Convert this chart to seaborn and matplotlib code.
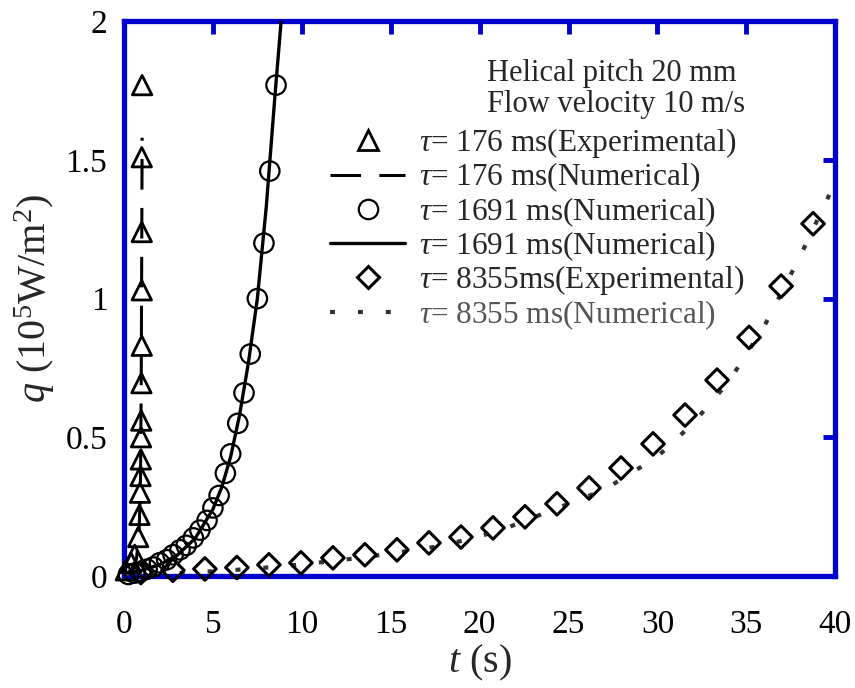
import matplotlib
matplotlib.use("Agg")
import matplotlib.pyplot as plt
from matplotlib.lines import Line2D
import seaborn as sns
import pandas as pd

# --- measured heat flux q (1e5 W/m^2) versus time t (s) ---
t_exp_176 = [0.10, 0.40, 0.60, 0.80, 0.87, 0.90, 0.93, 0.95, 0.96, 0.97, 0.98, 1.00, 1.00, 1.00, 1.00, 1.02]
q_exp_176 = [0.02, 0.047, 0.076, 0.14, 0.22, 0.30, 0.36, 0.42, 0.50, 0.56, 0.695, 0.83, 1.03, 1.24, 1.51, 1.77]

t_num_176 = [0.0, 0.4, 0.7, 0.85, 0.93, 0.97, 1.0, 1.02]
q_num_176 = [0.0, 0.02, 0.06, 0.15, 0.35, 0.70, 1.20, 1.58]

t_pts_1691 = [0.25, 0.6, 0.95, 1.3, 1.65, 2.0, 2.4, 2.76, 3.15, 3.5, 3.9, 4.27,
              4.67, 5.0, 5.35, 5.7, 6.0, 6.4, 6.75, 7.1, 7.5, 7.87, 8.2, 8.55]
q_pts_1691 = [0.005, 0.01, 0.016, 0.024, 0.032, 0.047, 0.058, 0.076, 0.094, 0.11, 0.137, 0.165,
              0.20, 0.245, 0.29, 0.37, 0.44, 0.55, 0.66, 0.80, 1.00, 1.20, 1.46, 1.77]

t_num_1691 = [0.0, 1.0, 2.0, 3.0, 4.0, 5.0, 5.5, 6.0, 6.5, 7.0, 7.5, 8.0, 8.5, 8.9]
q_num_1691 = [0.01, 0.02, 0.04, 0.075, 0.135, 0.24, 0.32, 0.43, 0.58, 0.77, 1.00, 1.33, 1.74, 2.05]

t_exp_8355 = [0.95, 2.75, 4.55, 6.35, 8.15, 9.95, 11.75, 13.55, 15.35, 17.15, 18.95,
              20.75, 22.55, 24.35, 26.15, 27.95, 29.75, 31.55, 33.35, 35.15, 36.95, 38.75]
q_exp_8355 = [0.012, 0.02, 0.025, 0.03, 0.04, 0.047, 0.065, 0.076, 0.094, 0.119, 0.14,
              0.173, 0.213, 0.26, 0.317, 0.389, 0.476, 0.58, 0.706, 0.86, 1.045, 1.27]

t_num_8355 = [0, 3, 6, 9, 12, 15, 18, 21, 24, 27, 30, 32, 34, 36, 38, 40]
q_num_8355 = [0.0, 0.01, 0.02, 0.035, 0.055, 0.08, 0.11, 0.16, 0.235, 0.31, 0.43, 0.55, 0.70, 0.90, 1.15, 1.42]

x_ticks = [0, 5, 10, 15, 20, 25, 30, 35, 40]
y_ticks = [0, 0.5, 1, 1.5, 2]
y_tick_labels = ["0", "0.5", "1", "1.5", "2"]

legend_labels = [
    r"$\tau$= 176 ms(Experimental)",
    r"$\tau$= 176 ms(Numerical)",
    r"$\tau$= 1691 ms(Numerical)",
    r"$\tau$= 1691 ms(Numerical)",
    r"$\tau$= 8355ms(Experimental)",
    r"$\tau$= 8355 ms(Numerical)",
]
info_lines = ["Helical pitch 20 mm", "Flow velocity 10 m/s"]

sns.set_theme(style="white")
plt.rcParams["font.family"] = ["Liberation Serif", "DejaVu Serif"]
plt.rcParams["mathtext.fontset"] = "custom"
plt.rcParams["mathtext.rm"] = "Liberation Serif"
plt.rcParams["mathtext.it"] = "Liberation Serif:italic"
plt.rcParams["mathtext.bf"] = "Liberation Serif:bold"

BLUE = "#0000CC"
fig = plt.figure(figsize=(8.55, 6.88), dpi=100)
ax = fig.add_axes([0.145, 0.163, 0.832, 0.806])

def frame(t, q):
    return pd.DataFrame({"t": t, "q": q})

# numerical curves
sns.lineplot(data=frame(t_num_176, q_num_176), x="t", y="q", ax=ax, sort=False,
             color="black", lw=2.2, zorder=3)
ax.lines[-1].set_dashes([10, 6])
sns.lineplot(data=frame(t_num_1691, q_num_1691), x="t", y="q", ax=ax, sort=False,
             color="black", lw=2.4, zorder=3)
sns.lineplot(data=frame(t_num_8355, q_num_8355), x="t", y="q", ax=ax, sort=False,
             color="#333333", lw=3.0, zorder=3)
ax.lines[-1].set_dashes([1.2, 5.5])

# markers
sc_kw = dict(facecolor="none", edgecolor="black", zorder=4, clip_on=False, legend=False)
sns.scatterplot(data=frame(t_exp_176, q_exp_176), x="t", y="q", ax=ax, marker="^",
                s=14 ** 2, linewidth=2.0, **sc_kw)
sns.scatterplot(data=frame(t_pts_1691, q_pts_1691), x="t", y="q", ax=ax, marker="o",
                s=14 ** 2, linewidth=1.6, **sc_kw)
sns.scatterplot(data=frame(t_exp_8355, q_exp_8355), x="t", y="q", ax=ax, marker="D",
                s=11.5 ** 2, linewidth=2.2, **sc_kw)
for c in ax.collections:
    c.set_facecolor("none")
    c.set_edgecolor("black")

ax.set_xlim(0, 40)
ax.set_ylim(0, 2)
ax.set_xticks(x_ticks)
ax.set_yticks(y_ticks)
ax.set_yticklabels(y_tick_labels)
ax.tick_params(axis="both", which="major", direction="in", length=9, width=3.5,
               color=BLUE, labelsize=24, top=True, right=True, labelcolor="black")
ax.tick_params(axis="x", pad=24)
ax.tick_params(axis="y", pad=12)
for sp in ax.spines.values():
    sp.set_color(BLUE)
    sp.set_linewidth(3.8)
    sp.set_visible(True)
    sp.set_zorder(2)

ax.set_xlabel(r"$t$ (s)", fontsize=29, labelpad=2)
ax.set_ylabel(r"$q$ (10$^5$W/m$^2$)", fontsize=29, labelpad=6)

# annotation block
for i, line in enumerate(info_lines):
    ax.text(0.51, 0.906 - i * 0.056, line, transform=ax.transAxes, fontsize=22,
            ha="left", va="center")

handles = [
    Line2D([], [], ls="none", marker="^", ms=14, mfc="none", mec="black", mew=2.0),
    Line2D([], [], color="black", lw=2.2, dashes=[10, 6]),
    Line2D([], [], ls="none", marker="o", ms=14, mfc="none", mec="black", mew=1.6),
    Line2D([], [], color="black", lw=2.4),
    Line2D([], [], ls="none", marker="D", ms=11.5, mfc="none", mec="black", mew=2.2),
    Line2D([], [], color="#333333", lw=3.0, dashes=[1.2, 5.5]),
]
leg = ax.legend(handles, legend_labels, loc="upper left", bbox_to_anchor=(0.29, 0.811),
                frameon=False, fontsize=22.5, handlelength=2.4, handletextpad=0.45,
                labelspacing=0.02, borderpad=0, borderaxespad=0)
leg.get_texts()[-1].set_color("#555555")

fig.savefig("out.png", dpi=100)
